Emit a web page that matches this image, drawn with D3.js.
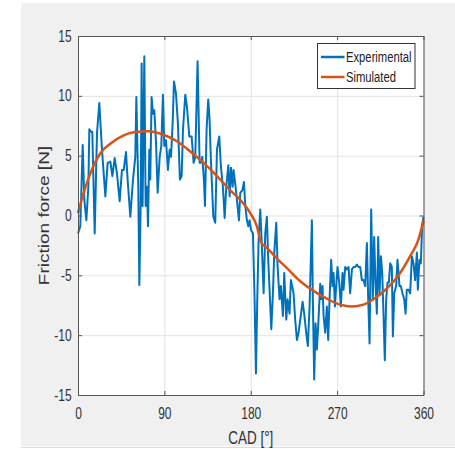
<!DOCTYPE html>
<html>
<head>
<meta charset="utf-8">
<script src="https://cdn.jsdelivr.net/npm/d3@7"></script>
<style>
  body { margin: 0; background: #fff; }
  svg { display: block; font-family: "Liberation Sans", Arial, sans-serif; }
</style>
</head>
<body>
<svg id="main-svg"></svg>
<script>
const svg = d3.select("#main-svg");

// FIXED
CANVAS_WIDTH = 455
CANVAS_HEIGHT = 449
PLOT_LEFT = 78
PLOT_RIGHT = 423.5
PLOT_TOP = 36
PLOT_BOTTOM = 395
SQUEEZE = 0.75 // the picture text looks squeezed horizontally

// data
const xTicks = [0, 90, 180, 270, 360];
const yTicks = [-15, -10, -5, 0, 5, 10, 15];
const seriesNames = ["Experimental", "Simulated"];
const seriesColors = ["#0072BD", "#D95319"];

const expAngle = [0, 2.4, 4.9, 6.6, 8.7, 10.8, 11.8, 13.5, 14.9, 17.4, 19.8, 22.2, 25.0, 28.5, 30.9, 33.7, 35.8, 38.2, 40.6, 43.4,
  45.8, 47.6, 50.0, 51.7, 54.5, 57.3, 59.7, 60.8, 62.8, 63.9, 65.3, 66.3, 67.3, 69.1, 70.5, 71.9, 72.9, 74.3, 75.3, 76.7,
  78.1, 79.5, 81.2, 83.0, 85.1, 86.8, 88.5, 89.9, 91.7, 93.7, 95.5, 96.9, 98.6, 100.0, 102.1, 104.1, 106.2, 108.0, 109.4, 111.8,
  113.5, 116.0, 118.4, 120.5, 122.2, 124.6, 126.7, 128.1, 129.5, 131.2, 132.3, 134.0, 135.7, 137.1, 138.5, 141.0, 143.0, 144.8, 147.2, 148.9,
  151.0, 152.8, 154.5, 156.6, 158.0, 159.4, 161.1, 162.1, 164.2, 165.6, 167.7, 169.1, 171.2, 172.9, 174.3, 176.0, 177.4, 178.8, 180.2, 182.3,
  184.0, 185.4, 186.8, 188.2, 189.9, 191.3, 193.4, 195.1, 196.8, 198.2, 199.6, 201.4, 203.1, 204.5, 206.6, 208.0, 210.0, 211.4, 213.5, 214.9,
  217.0, 218.4, 220.4, 221.8, 223.2, 224.6, 226.3, 228.1, 229.8, 231.6, 234.0, 235.7, 237.8, 239.5, 241.3, 243.7, 244.7, 246.1, 247.5, 248.9,
  250.6, 252.4, 253.4, 254.8, 255.9, 257.6, 259.3, 260.7, 262.1, 263.8, 265.2, 266.3, 267.7, 269.0, 270.4, 272.2, 273.9, 275.6, 276.7, 278.4,
  280.2, 281.9, 283.6, 285.4, 287.1, 288.8, 290.6, 292.3, 294.0, 295.8, 297.5, 299.3, 301.0, 302.4, 303.8, 305.5, 307.2, 308.6, 310.0, 311.4,
  312.8, 314.2, 315.6, 317.0, 318.3, 319.7, 321.1, 322.5, 323.9, 325.3, 327.0, 328.1, 329.5, 331.5, 332.9, 335.0, 336.4, 338.1, 339.9, 341.3,
  342.6, 344.4, 346.1, 347.9, 349.6, 351.3, 353.1, 354.1, 355.8, 357.2, 358.6, 360];
const expForce = [-1.5, -0.9, 5.9, 1.3, -0.4, 2.4, 7.2, 7.0, 7.0, -1.5, 6.9, 9.4, 5.5, 1.6, 4.4, 4.5, 3.3, 4.8, 3.5, 1.2,
  3.8, 3.8, 5.3, 3.0, -0.1, 3.0, 4.9, 9.9, 2.4, -5.8, 0.8, 12.7, 0.8, 13.3, 0.8, 2.4, -0.9, 5.5, 3.0, 9.9,
  8.5, 8.8, 6.3, 1.9, 4.9, 5.8, 10.1, 5.8, 6.3, 3.8, 5.5, 4.9, 7.7, 11.2, 10.2, 7.7, 3.0, 3.3, 7.2, 10.1,
  9.1, 6.6, 6.6, 4.4, 4.9, 12.9, 4.4, 4.4, 4.9, 3.0, 0.8, 7.2, 9.7, 8.0, 4.6, -0.1, -0.6, 5.5, 6.6, 4.1,
  2.4, -0.2, 2.4, 4.2, 1.6, 4.0, 2.4, 3.8, 2.4, 1.3, -0.4, 1.9, 2.1, 2.8, 0.8, -0.4, -0.9, -0.4, -1.2, -1.5,
  -7.0, -13.2, -7.0, -2.0, 0.5, -2.0, -6.5, -1.5, -0.1, -3.7, -6.2, -9.5, -6.5, -3.1, -0.6, -4.3, -7.0, -5.9, -8.4, -4.8,
  -8.7, -7.0, -8.2, -5.4, -5.9, -6.5, -8.7, -10.4, -9.8, -8.7, -7.2, -8.2, -9.8, -10.9, -7.6, -0.4, -7.0, -13.7, -9.0, -11.2,
  -8.7, -5.7, -7.0, -5.9, -8.4, -9.8, -7.6, -10.4, -7.0, -3.7, -5.9, -4.8, -7.6, -5.9, -4.3, -5.6, -7.6, -4.8, -6.2, -4.3,
  -4.5, -4.3, -6.5, -4.5, -4.3, -4.3, -4.1, -4.3, -4.3, -5.4, -5.4, -5.9, -2.3, -7.0, -10.7, 0.5, -7.0, -1.8, -5.6, -8.2,
  -1.8, -6.5, -3.4, -4.8, -8.2, -12.1, -7.0, -5.6, -5.6, -4.0, -4.3, -10.1, -6.5, -5.9, -3.7, -5.9, -5.9, -6.5, -7.0, -8.2,
  -6.2, -6.2, -6.5, -3.4, -4.0, -5.4, -3.1, -6.2, -3.7, -4.0, -0.9, -0.1];

const simAngle = [0, 5.9, 12.8, 23.3, 33.7, 47.6, 58.0, 73.6, 89.2, 103.1, 117.0, 130.9, 144.8, 158.7, 169.1, 179.5, 186.4, 190.9,
  196.8, 207.3, 217.7, 231.6, 245.4, 259.3, 273.2, 285.4, 297.5, 307.9, 321.8, 335.7, 346.1, 354.8, 360];
const simForce = [0.2, 1.9, 3.5, 5.2, 6.0, 6.7, 6.95, 7.05, 6.75, 6.2, 5.35, 4.4, 3.3, 2.1, 1.3, 0.2, -0.9, -2.25,
  -2.7, -3.6, -4.4, -5.5, -6.3, -6.95, -7.45, -7.6, -7.45, -7.0, -6.1, -4.8, -3.4, -2.0, -0.4];

svg
  .attr("width", CANVAS_WIDTH)
  .attr("height", CANVAS_HEIGHT);

// figure background (matlab grey) + the thin blue line at the bottom
svg.append("rect")
  .attr("x", 21).attr("y", 3)
  .attr("width", CANVAS_WIDTH - 21)
  .attr("height", 443)
  .attr("fill", "#f0f0f0");
svg.append("line")
  .attr("x1", 21).attr("x2", CANVAS_WIDTH)
  .attr("y1", 447.5).attr("y2", 447.5)
  .attr("stroke", "#c8dff3");

const x = d3.scaleLinear().domain([0, 360]).range([PLOT_LEFT, PLOT_RIGHT]);
const y = d3.scaleLinear().domain([-15, 15]).range([PLOT_BOTTOM, PLOT_TOP]);

// axes area
svg.append("rect")
  .attr("x", PLOT_LEFT).attr("y", PLOT_TOP)
  .attr("width", PLOT_RIGHT - PLOT_LEFT)
  .attr("height", PLOT_BOTTOM - PLOT_TOP)
  .attr("fill", "white");

// grid
const gridX = svg.append("g")
  .attr("transform", `translate(0 ${PLOT_BOTTOM})`)
  .call(d3.axisBottom(x).tickValues(xTicks).tickSize(-(PLOT_BOTTOM - PLOT_TOP)).tickFormat(""));
const gridY = svg.append("g")
  .attr("transform", `translate(${PLOT_LEFT} 0)`)
  .call(d3.axisLeft(y).tickValues(yTicks).tickSize(-(PLOT_RIGHT - PLOT_LEFT)).tickFormat(""));
[gridX, gridY].forEach(g => {
  g.select(".domain").remove();
  g.selectAll("line").attr("stroke", "#e3e3e3").attr("stroke-width", 1);
});

// lines
const expData = expAngle.map((a, i) => [a, expForce[i]]);
const simData = simAngle.map((a, i) => [a, simForce[i]]);

svg.append("path")
  .datum(expData)
  .attr("fill", "none")
  .attr("stroke", seriesColors[0])
  .attr("stroke-width", 2)
  .attr("stroke-linejoin", "round")
  .attr("d", d3.line().x(d => x(d[0])).y(d => y(d[1])));

svg.append("path")
  .datum(simData)
  .attr("fill", "none")
  .attr("stroke", seriesColors[1])
  .attr("stroke-width", 2.5)
  .attr("stroke-linejoin", "round")
  .attr("d", d3.line().curve(d3.curveMonotoneX).x(d => x(d[0])).y(d => y(d[1])));

// box + inner ticks on all 4 sides
const AXIS_COLOR = "#555";
const boxAxes = [
  [d3.axisBottom(x).tickValues(xTicks), `translate(0 ${PLOT_BOTTOM})`],
  [d3.axisTop(x).tickValues(xTicks), `translate(0 ${PLOT_TOP})`],
  [d3.axisLeft(y).tickValues(yTicks), `translate(${PLOT_LEFT} 0)`],
  [d3.axisRight(y).tickValues(yTicks), `translate(${PLOT_RIGHT} 0)`],
];
boxAxes.forEach(([ax, tr]) => {
  const g = svg.append("g").attr("transform", tr)
    .call(ax.tickSize(-4).tickSizeOuter(0).tickFormat(""));
  g.select(".domain").attr("stroke", AXIS_COLOR);
  g.selectAll("line").attr("stroke", AXIS_COLOR);
});

// tick labels (plain hyphen for negatives, like matlab)
const plain = d => String(d);
const xLabels = svg.append("g")
  .attr("transform", `translate(0 ${PLOT_BOTTOM})`)
  .call(d3.axisBottom(x).tickValues(xTicks).tickSize(0).tickPadding(13).tickFormat(plain));
const yLabels = svg.append("g")
  .attr("transform", `translate(${PLOT_LEFT} 0)`)
  .call(d3.axisLeft(y).tickValues(yTicks).tickSize(0).tickPadding(8.4).tickFormat(plain));
[xLabels, yLabels].forEach(g => {
  g.select(".domain").remove();
  g.selectAll("text")
    .attr("fill", "#333")
    .attr("font-size", 16)
    .attr("font-family", "Liberation Sans, Arial, sans-serif")
    .attr("transform", `scale(${SQUEEZE} 1)`);
});

// axis titles
svg.append("text")
  .attr("transform", `translate(${(PLOT_LEFT + PLOT_RIGHT) / 2} 444) scale(${SQUEEZE} 1)`)
  .attr("text-anchor", "middle")
  .attr("font-size", 18)
  .attr("fill", "#333")
  .text("CAD [°]");

svg.append("text")
  .attr("transform", `translate(49 ${(PLOT_TOP + PLOT_BOTTOM) / 2}) scale(${SQUEEZE} 1) rotate(-90)`)
  .attr("text-anchor", "middle")
  .attr("font-size", 19)
  .attr("fill", "#333")
  .text("Friction force [N]");

// legend
const legend = svg.append("g").attr("transform", "translate(317.5 43.5)");
legend.append("rect")
  .attr("width", 97.5)
  .attr("height", 45)
  .attr("fill", "white")
  .attr("stroke", "#333")
  .attr("stroke-width", 1);

seriesNames.forEach((name, i) => {
  const rowY = 13.5 + i * 20;
  legend.append("line")
    .attr("x1", 3.5).attr("x2", 27)
    .attr("y1", rowY).attr("y2", rowY)
    .attr("stroke", seriesColors[i])
    .attr("stroke-width", 2.5);
  legend.append("text")
    .attr("transform", `translate(28.5 ${rowY + 5}) scale(${SQUEEZE} 1)`)
    .attr("font-size", 15)
    .attr("fill", "#222")
    .text(name);
});
</script>
</body>
</html>
